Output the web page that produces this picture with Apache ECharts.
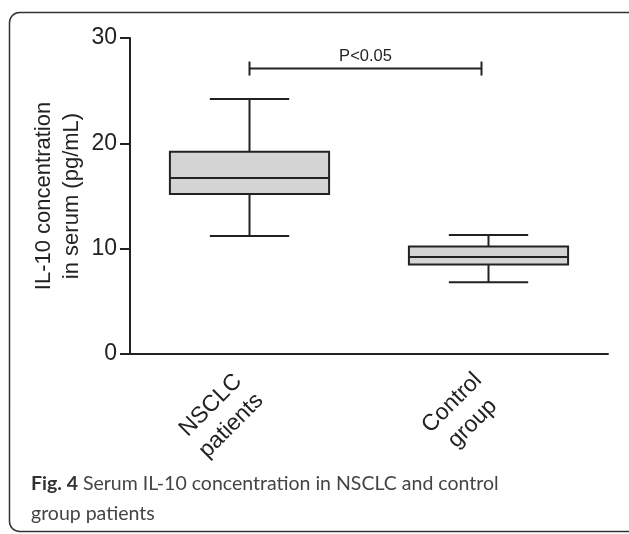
<!DOCTYPE html>
<html>
<head>
<meta charset="utf-8">
<script src="https://cdn.jsdelivr.net/npm/echarts@6/dist/echarts.min.js"></script>
<style>
  html, body { margin: 0; padding: 0; background: #fff; }
  #chart { width: 629px; height: 534px; }
</style>
</head>
<body>
<div id="chart"></div>
<script>
// 分组
var categories = ['NSCLC\npatients', 'Control\ngroup'];
// [min, Q1, median, Q3, max]
var boxValues = [
  [11.2, 15.2, 16.7, 19.2, 24.2],
  [6.8, 8.5, 9.2, 10.2, 11.3]
];
var yTicks = [0, 10, 20, 30];
var sigLevel = 27.1;
var sigText = 'P<0.05';

var chart = echarts.init(document.getElementById('chart'));

var boxData = boxValues.map(function (v, i) {
  return [i].concat(v);
});

var option = {
  animation: false,
  title: {
    left: 26,
    top: 464,
    text: '{b|Fig. 4} {n|Serum IL-10 concentration in NSCLC and control}\n{n|group patients}',
    textStyle: {
      fontWeight: 'normal',
      rich: {
        b: { fontFamily: 'Lato', fontWeight: 'bold', fontSize: 19.5, color: '#333', lineHeight: 30 },
        n: { fontFamily: 'Lato', fontWeight: 'normal', fontSize: 19.5, color: '#444', lineHeight: 30 }
      }
    }
  },
  graphic: [{
    type: 'rect',
    shape: { x: 9.5, y: 12.5, width: 630, height: 519, r: 10 },
    style: { fill: 'none', stroke: '#333', lineWidth: 1.5 },
    z: -1
  }],
  grid: { left: 130, right: 21, top: 38, bottom: 180 },
  xAxis: {
    type: 'category',
    data: categories,
    axisLine: { lineStyle: { color: '#222', width: 2 } },
    axisTick: { alignWithLabel: true, length: 9, lineStyle: { color: '#222', width: 2 } },
    axisLabel: {
      rotate: 45,
      margin: 33,
      fontFamily: 'Liberation Sans',
      fontSize: 23,
      color: '#222',
      lineHeight: 29,
      formatter: function (v) {
        return v.split('\n').map(function (s) { return '{c|' + s + '}'; }).join('\n');
      },
      rich: { c: { align: 'center', fontFamily: 'Liberation Sans', fontSize: 23, color: '#222', lineHeight: 29 } }
    },
    splitLine: { show: false }
  },
  yAxis: {
    type: 'value',
    min: yTicks[0],
    max: yTicks[yTicks.length - 1],
    interval: 10,
    name: 'IL-10 concentration\nin serum (pg/mL)',
    nameLocation: 'middle',
    nameGap: 44,
    nameMoveOverlap: false,
    nameTextStyle: { fontFamily: 'Liberation Sans', fontSize: 22, color: '#222', lineHeight: 28 },
    axisLine: { show: true, lineStyle: { color: '#222', width: 2 } },
    axisTick: { show: true, length: 10, lineStyle: { color: '#222', width: 2 } },
    axisLabel: { margin: 13, fontFamily: 'Liberation Sans', fontSize: 23, color: '#222' },
    splitLine: { show: false }
  },
  series: [{
    type: 'custom',
    name: 'box',
    data: boxData,
    encode: { x: 0, y: [1, 2, 3, 4, 5] },
    renderItem: function (params, api) {
      var idx = api.value(0);
      var lo = api.coord([idx, api.value(1)]);
      var q1 = api.coord([idx, api.value(2)]);
      var md = api.coord([idx, api.value(3)]);
      var q3 = api.coord([idx, api.value(4)]);
      var hi = api.coord([idx, api.value(5)]);
      var band = api.size([1, 0])[0];
      var hw = band * 0.333;
      var cw = band * 0.166;
      var x = md[0];
      var ls = { stroke: '#222', lineWidth: 2 };
      return {
        type: 'group',
        children: [
          { type: 'line', shape: { x1: x, y1: hi[1], x2: x, y2: q3[1] }, style: ls },
          { type: 'line', shape: { x1: x, y1: q1[1], x2: x, y2: lo[1] }, style: ls },
          { type: 'line', shape: { x1: x - cw, y1: hi[1], x2: x + cw, y2: hi[1] }, style: ls },
          { type: 'line', shape: { x1: x - cw, y1: lo[1], x2: x + cw, y2: lo[1] }, style: ls },
          { type: 'rect', shape: { x: x - hw, y: q3[1], width: hw * 2, height: q1[1] - q3[1] },
            style: { fill: '#d4d4d4', stroke: '#222', lineWidth: 2 } },
          { type: 'line', shape: { x1: x - hw, y1: md[1], x2: x + hw, y2: md[1] }, style: ls }
        ]
      };
    }
  }, {
    type: 'custom',
    name: 'sig',
    data: [[0, 1, sigLevel]],
    encode: { x: [0, 1], y: 2 },
    renderItem: function (params, api) {
      var p0 = api.coord([api.value(0), api.value(2)]);
      var p1 = api.coord([api.value(1), api.value(2)]);
      var x2 = p1[0] - 7;
      var ls = { stroke: '#222', lineWidth: 2 };
      return {
        type: 'group',
        children: [
          { type: 'line', shape: { x1: p0[0], y1: p0[1], x2: x2, y2: p0[1] }, style: ls },
          { type: 'line', shape: { x1: p0[0], y1: p0[1] - 7, x2: p0[0], y2: p0[1] + 7 }, style: ls },
          { type: 'line', shape: { x1: x2, y1: p0[1] - 7, x2: x2, y2: p0[1] + 7 }, style: ls },
          { type: 'text', x: (p0[0] + x2) / 2, y: p0[1] - 12,
            style: { text: sigText, fontFamily: 'Liberation Sans', fontSize: 16.5, fill: '#222',
                     align: 'center', verticalAlign: 'middle' } }
        ]
      };
    }
  }]
};

chart.setOption(option);
</script>
</body>
</html>
